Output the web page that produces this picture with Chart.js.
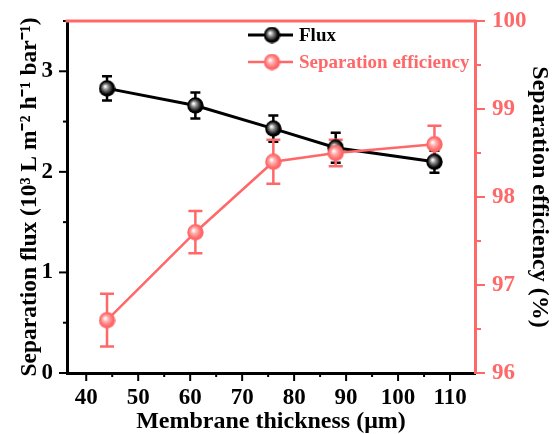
<!DOCTYPE html>
<html>
<head>
<meta charset="utf-8">
<script src="https://cdn.jsdelivr.net/npm/chart.js@4.4.1/dist/chart.umd.min.js"></script>
<style>
  html, body { margin: 0; padding: 0; background: #fff; }
  #wrap { width: 552px; height: 434px; position: relative; }
</style>
</head>
<body>
<div id="wrap"><canvas id="chart"></canvas></div>
<script>
// data
const thickness = [44, 61, 76, 88, 107];
const flux = [2.83, 2.66, 2.43, 2.24, 2.10];
const fluxErr = [0.12, 0.13, 0.13, 0.15, 0.11];
const efficiency = [96.6, 97.6, 98.4, 98.5, 98.6];
const effErr = [0.30, 0.24, 0.25, 0.15, 0.21];

const xTicks = [40, 50, 60, 70, 80, 90, 100, 110];
const xMinor = [45, 55, 65, 75, 85, 95, 105];
const fluxTicks = [0, 1, 2, 3];
const fluxMinor = [0.5, 1.5, 2.5, 3.5];
const effTicks = [96, 97, 98, 99, 100];
const effMinor = [96.5, 97.5, 98.5, 99.5];

const RED = '#FF6868';
const FONT = "'Liberation Serif', 'Times New Roman', serif";

// shaded ball markers
function ball(base, shine) {
    const c = document.createElement('canvas');
    c.width = c.height = 17;
    const g = c.getContext('2d');
    const grad = g.createRadialGradient(6.5, 6.5, 0.5, 8.5, 8.5, 8.5);
    grad.addColorStop(0, '#ffffff');
    grad.addColorStop(0.3, shine);
    grad.addColorStop(0.75, base);
    grad.addColorStop(1, base);
    g.fillStyle = grad;
    g.beginPath();
    g.arc(8.5, 8.5, 8.2, 0, Math.PI * 2);
    g.fill();
    return c;
}
const blackBall = ball('#000000', '#8a8a8a');
const redBall = ball(RED, '#ffb0b0');

// fixed axis sizes so the plot area sits where the original one does
function fixBox(size) {
    return s => {
        if (s.isHorizontal()) s.height = size; else s.width = size;
        s.paddingTop = 0; s.paddingBottom = 0;
        s.paddingLeft = 0; s.paddingRight = 0;
    };
}

// error bars, ticks, red top frame and legend
const decor = {
    id: 'decor',
    beforeDatasetsDraw(chart) {
        const ctx = chart.ctx;
        const x = chart.scales.x;
        const sets = [
            { y: chart.scales.y, vals: flux, err: fluxErr, color: '#000', cap: 5, w: 2.5 },
            { y: chart.scales.y2, vals: efficiency, err: effErr, color: RED, cap: 7, w: 2.5 }
        ];
        ctx.save();
        sets.forEach(s => {
            ctx.strokeStyle = s.color;
            ctx.lineWidth = s.w;
            thickness.forEach((t, i) => {
                const px = x.getPixelForValue(t);
                const top = s.y.getPixelForValue(s.vals[i] + s.err[i]);
                const bot = s.y.getPixelForValue(s.vals[i] - s.err[i]);
                ctx.beginPath();
                ctx.moveTo(px, top); ctx.lineTo(px, bot);
                ctx.moveTo(px - s.cap, top); ctx.lineTo(px + s.cap, top);
                ctx.moveTo(px - s.cap, bot); ctx.lineTo(px + s.cap, bot);
                ctx.stroke();
            });
        });
        ctx.restore();
    },
    afterDraw(chart) {
        const ctx = chart.ctx;
        const a = chart.chartArea;
        const { x, y, y2 } = chart.scales;
        ctx.save();
        ctx.lineWidth = 2;
        // bottom ticks
        ctx.strokeStyle = '#000';
        xTicks.forEach(v => { const p = x.getPixelForValue(v); ctx.beginPath(); ctx.moveTo(p, a.bottom); ctx.lineTo(p, a.bottom + 8); ctx.stroke(); });
        xMinor.forEach(v => { const p = x.getPixelForValue(v); ctx.beginPath(); ctx.moveTo(p, a.bottom); ctx.lineTo(p, a.bottom + 4); ctx.stroke(); });
        // left ticks
        fluxTicks.forEach(v => { const p = y.getPixelForValue(v); ctx.beginPath(); ctx.moveTo(a.left, p); ctx.lineTo(a.left - 8, p); ctx.stroke(); });
        fluxMinor.forEach(v => { const p = y.getPixelForValue(v); ctx.beginPath(); ctx.moveTo(a.left, p); ctx.lineTo(a.left - 4, p); ctx.stroke(); });
        // right ticks
        ctx.strokeStyle = RED;
        effTicks.forEach(v => { const p = y2.getPixelForValue(v); ctx.beginPath(); ctx.moveTo(a.right, p); ctx.lineTo(a.right + 10, p); ctx.stroke(); });
        effMinor.forEach(v => { const p = y2.getPixelForValue(v); ctx.beginPath(); ctx.moveTo(a.right, p); ctx.lineTo(a.right + 6, p); ctx.stroke(); });
        // red top frame
        ctx.lineWidth = 3;
        ctx.beginPath();
        ctx.moveTo(a.left - 1.5, a.top);
        ctx.lineTo(a.right + 1.5, a.top);
        ctx.stroke();

        // legend
        const rows = [
            { label: 'Flux', color: '#000', img: blackBall, w: 3 },
            { label: 'Separation efficiency', color: RED, img: redBall, w: 2.5 }
        ];
        ctx.font = 'bold 19px ' + FONT;
        ctx.textBaseline = 'middle';
        rows.forEach((r, i) => {
            const ly = a.top + 14 + i * 27;
            const lx = a.left + 181;
            ctx.strokeStyle = r.color;
            ctx.lineWidth = r.w;
            ctx.beginPath(); ctx.moveTo(lx, ly); ctx.lineTo(lx + 45, ly); ctx.stroke();
            ctx.drawImage(r.img, lx + 24 - 8.5, ly - 8.5);
            ctx.fillStyle = r.color;
            ctx.fillText(r.label, lx + 51, ly + 1);
        });
        ctx.restore();
    }
};

const ctx = document.getElementById('chart').getContext('2d');
new Chart(ctx, {
    type: 'line',
    data: {
        datasets: [
            {
                label: 'Flux',
                data: thickness.map((t, i) => ({ x: t, y: flux[i] })),
                yAxisID: 'y',
                borderColor: '#000',
                borderWidth: 3,
                pointStyle: blackBall,
                order: 1
            },
            {
                label: 'Separation efficiency',
                data: thickness.map((t, i) => ({ x: t, y: efficiency[i] })),
                yAxisID: 'y2',
                borderColor: RED,
                borderWidth: 2.5,
                pointStyle: redBall,
                order: 0
            }
        ]
    },
    options: {
        responsive: true,
        maintainAspectRatio: false,
        animation: false,
        layout: { padding: { top: 21, right: 0, left: 0, bottom: 0 } },
        plugins: {
            legend: { display: false },
            tooltip: { enabled: false }
        },
        scales: {
            x: {
                type: 'linear',
                min: 36.3,
                max: 114.8,
                afterBuildTicks: s => { s.ticks = xTicks.map(v => ({ value: v })); },
                afterFit: fixBox(61),
                grid: { drawOnChartArea: false, tickLength: 8, tickColor: 'rgba(0,0,0,0)' },
                border: { color: '#000', width: 3 },
                ticks: { color: '#000', padding: 3, maxRotation: 0, font: { family: FONT, size: 23, weight: 'bold' } },
                title: {
                    display: true,
                    text: 'Membrane thickness (μm)',
                    color: '#000',
                    padding: { top: 0, bottom: 0 },
                    font: { family: FONT, size: 24, weight: 'bold', lineHeight: 1 }
                }
            },
            y: {
                position: 'left',
                min: 0,
                max: 3.5,
                afterBuildTicks: s => { s.ticks = fluxTicks.map(v => ({ value: v })); },
                afterFit: fixBox(67),
                grid: { drawOnChartArea: false, tickLength: 8, tickColor: 'rgba(0,0,0,0)' },
                border: { color: '#000', width: 3 },
                ticks: { color: '#000', padding: 6, font: { family: FONT, size: 23, weight: 'bold' } },
                title: {
                    display: true,
                    text: 'Separation flux (10³ L m⁻² h⁻¹ bar⁻¹)',
                    color: '#000',
                    padding: { top: 18, bottom: 0 },
                    font: { family: FONT, size: 23.5, weight: 'bold', lineHeight: 1 }
                }
            },
            y2: {
                position: 'right',
                min: 96,
                max: 100,
                afterBuildTicks: s => { s.ticks = effTicks.map(v => ({ value: v })); },
                afterFit: fixBox(77),
                grid: { drawOnChartArea: false, tickLength: 8, tickColor: 'rgba(0,0,0,0)' },
                border: { color: RED, width: 3 },
                ticks: { color: RED, padding: 9, font: { family: FONT, size: 23, weight: 'bold' } },
                title: {
                    display: true,
                    text: 'Separation efficiency (%)',
                    color: '#000',
                    padding: { top: 1, bottom: 0 },
                    font: { family: FONT, size: 24, weight: 'bold', lineHeight: 1 }
                }
            }
        }
    },
    plugins: [decor]
});
</script>
</body>
</html>
